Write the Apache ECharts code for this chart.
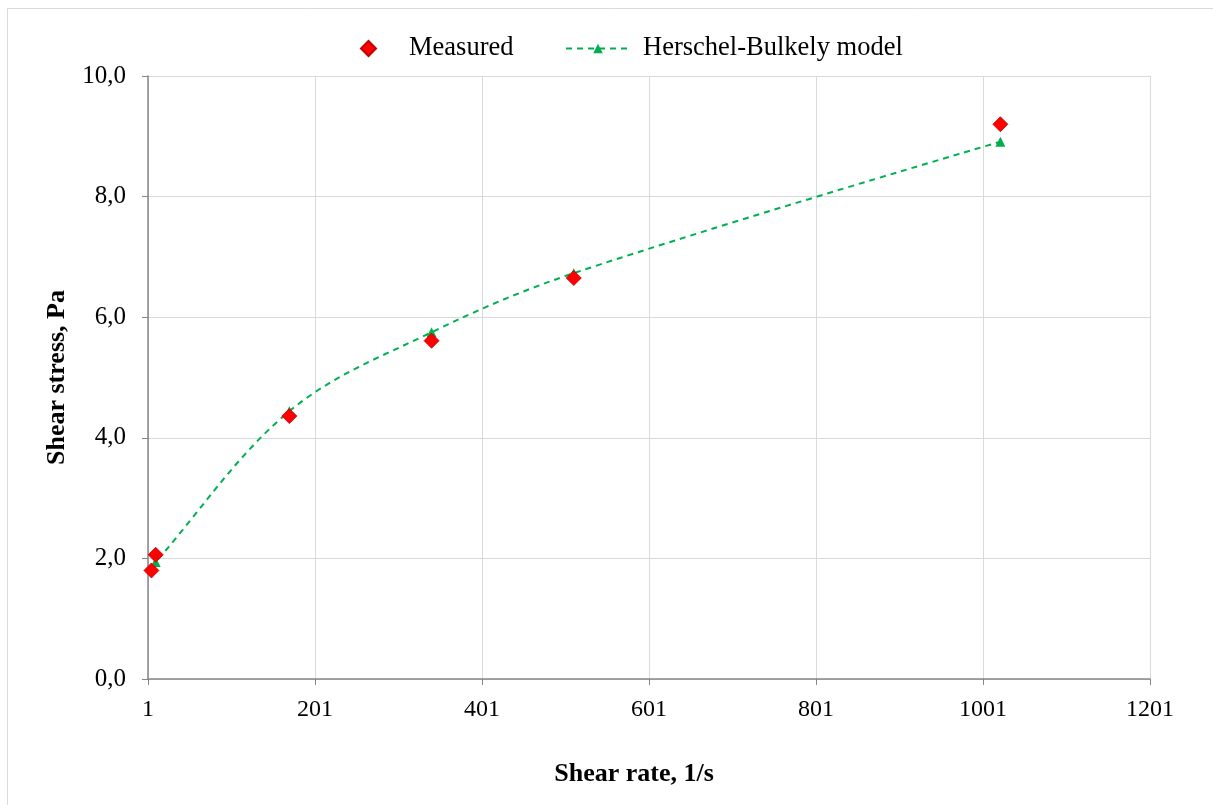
<!DOCTYPE html>
<html>
<head>
<meta charset="utf-8">
<script src="https://cdn.jsdelivr.net/npm/echarts@6/dist/echarts.min.js"></script>
<style>
  html, body { margin: 0; padding: 0; background: #fff; }
  #chart { width: 1213px; height: 805px; }
</style>
</head>
<body>
<div id="chart"></div>
<script>
// Shear rates (1/s) of the viscometer readings
const shearRate = [5.1, 10.2, 170.3, 340.6, 510.9, 1021.8];
// Measured shear stress, Pa
const measured = [1.80, 2.06, 4.36, 5.61, 6.65, 9.20];
// Herschel-Bulkley model shear stress, Pa
const model = [1.84, 1.94, 4.44, 5.75, 6.73, 8.91];

const xTicks = { min: 1, max: 1201, step: 200 };
const yTicks = { min: 0, max: 10, step: 2 };

const pairs = (xs, ys) => xs.map((x, i) => [x, ys[i]]);

const FONT = '"Liberation Serif", "Times New Roman", serif';
const AXIS_COLOR = '#868686';
const GRID_COLOR = '#d9d9d9';

const chart = echarts.init(document.getElementById('chart'), null, { renderer: 'canvas' });

chart.setOption({
  animation: false,
  backgroundColor: '#ffffff',
  graphic: [{
    type: 'rect',
    shape: { x: 7.5, y: 8.5, width: 1220, height: 820 },
    style: { fill: 'none', stroke: GRID_COLOR, lineWidth: 1 },
    silent: true
  }],
  grid: { left: 148, right: 63, top: 76, bottom: 126, containLabel: false },
  legend: [{
    data: ['Measured'],
    left: 355, top: 30,
    itemWidth: 15, itemHeight: 15,
    textStyle: { fontFamily: FONT, fontSize: 26.5, color: '#000', padding: [0, 0, 0, 28] }
  }, {
    data: ['Herschel-Bulkely model'],
    left: 560, top: 30,
    itemWidth: 64, itemHeight: 12,
    textStyle: { fontFamily: FONT, fontSize: 26.5, color: '#000', padding: [0, 0, 0, 8] }
  }],
  xAxis: {
    type: 'value',
    min: xTicks.min, max: xTicks.max, interval: xTicks.step,
    name: 'Shear rate, 1/s',
    nameLocation: 'middle', nameGap: 82,
    nameTextStyle: {
      fontFamily: FONT, fontSize: 26, fontWeight: 'bold', color: '#000',
      padding: [0, 30, 0, 0]
    },
    axisLine: { show: true, lineStyle: { color: AXIS_COLOR, width: 1.5 } },
    axisTick: { show: true, length: 6, lineStyle: { color: AXIS_COLOR, width: 1 } },
    axisLabel: {
      fontFamily: FONT, fontSize: 24, color: '#000', margin: 19,
      formatter: v => String(Math.round(v))
    },
    splitLine: { show: true, lineStyle: { color: GRID_COLOR, width: 1 } }
  },
  yAxis: {
    type: 'value',
    min: yTicks.min, max: yTicks.max, interval: yTicks.step,
    name: 'Shear stress, Pa',
    nameLocation: 'middle', nameGap: 78, nameRotate: 90,
    nameTextStyle: { fontFamily: FONT, fontSize: 26, fontWeight: 'bold', color: '#000' },
    axisLine: { show: true, lineStyle: { color: AXIS_COLOR, width: 1.5 } },
    axisTick: { show: true, length: 6, lineStyle: { color: AXIS_COLOR, width: 1 } },
    axisLabel: {
      fontFamily: FONT, fontSize: 25, color: '#000', margin: 22,
      formatter: v => v.toFixed(1).replace('.', ',')
    },
    splitLine: { show: true, lineStyle: { color: GRID_COLOR, width: 1 } }
  },
  series: [{
    name: 'Herschel-Bulkely model',
    type: 'line',
    data: pairs(shearRate, model),
    smooth: 0.35,
    symbol: 'triangle',
    symbolSize: 10,
    showSymbol: true,
    lineStyle: { color: '#00B050', width: 2, type: [6, 5] },
    itemStyle: { color: '#00B050' },
    z: 2
  }, {
    name: 'Measured',
    type: 'scatter',
    data: pairs(shearRate, measured),
    symbol: 'diamond',
    symbolSize: 15,
    itemStyle: { color: '#FF0000', borderColor: '#C00000', borderWidth: 0.8, opacity: 1 },
    z: 3
  }]
});
</script>
</body>
</html>
